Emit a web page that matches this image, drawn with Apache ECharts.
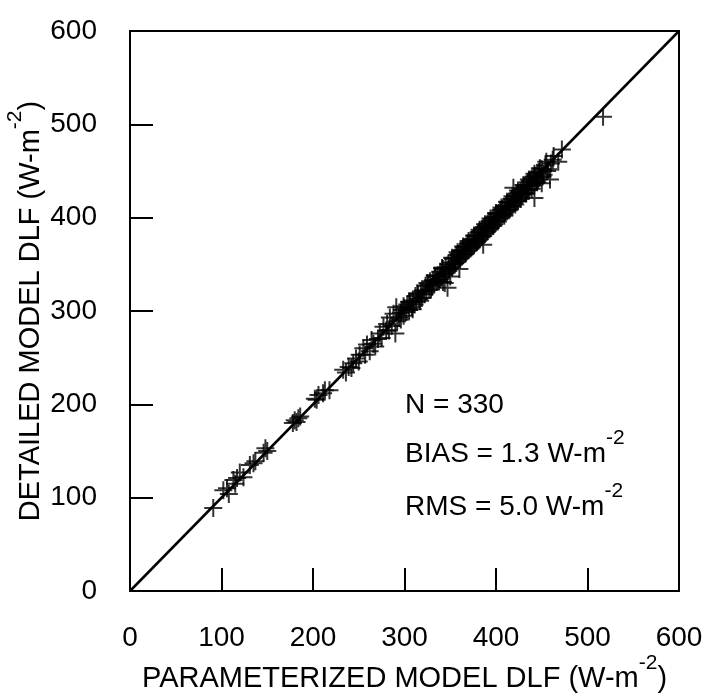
<!DOCTYPE html>
<html><head><meta charset="utf-8">
<script src="https://cdn.jsdelivr.net/npm/echarts@6/dist/echarts.min.js"></script>
<style>html,body{margin:0;padding:0;background:#fff}#c{width:704px;height:694px}</style>
</head><body><div id="c"></div>
<script>
// Parameterized model DLF (x) and detailed model DLF (y), W m-2
const paramDLF = [
  91,102,106,108,113,115,117,120,124,131,
  135,137,146,148,150,178,180,182,186,184,
  202,204,206,211,213,218,233,236,239,242,
  244,247,250,251,255,257,259,262,264,266,
  268,271,273,275,277,280,281,283,284,286,
  288,290,291,292,294,296,297,299,300,302,
  303,305,306,308,309,311,312,313,315,316,
  318,319,320,322,323,324,326,327,328,330,
  331,332,334,335,336,338,339,340,342,342,
  343,344,345,346,347,348,349,350,351,352,
  353,354,355,356,357,358,359,360,360,361,
  362,363,364,365,366,367,368,369,370,371,
  372,373,374,375,376,377,378,379,380,381,
  382,383,384,385,386,386,387,388,389,390,
  391,392,393,394,395,396,397,398,399,400,
  401,402,403,404,405,406,407,408,409,410,
  411,412,413,414,415,416,417,418,419,419,
  420,421,422,423,424,425,426,427,428,429,
  430,431,432,433,434,435,436,437,438,439,
  440,441,442,442,443,444,445,446,447,448,
  450,450,452,454,456,459,460,462,468,472,
  333,337,341,344,348,352,355,358,361,364,
  367,370,373,376,379,382,385,388,391,394,
  397,400,403,406,409,412,415,418,421,424,
  427,430,433,436,439,442,445,448,451,455,
  314,317,325,329,296,299,305,309,457,463,
  517
];
const detailedDLF = [
  89,108,110,104,119,115,121,127,122,135,
  137,139,148,153,150,180,183,181,187,185,
  206,205,210,212,215,215,237,234,240,239,
  244,249,246,253,260,253,264,257,269,265,
  262,270,276,271,283,279,286,279,293,284,
  297,276,304,289,293,298,301,295,303,299,
  307,301,309,304,311,307,316,310,318,313,
  321,314,322,318,327,321,328,323,332,326,
  333,328,337,331,338,334,342,336,331,345,
  339,330,347,341,325,350,345,337,352,347,
  356,350,357,352,360,354,361,345,356,364,
  358,365,360,368,361,369,364,372,365,373,
  367,376,369,377,371,380,373,381,375,384,
  377,385,379,388,371,381,390,383,391,385,
  394,388,396,389,397,392,400,393,401,396,
  404,396,405,400,408,402,409,404,412,406,
  413,408,416,408,417,412,420,412,420,432,
  416,423,418,426,418,427,422,428,424,431,
  426,434,426,435,430,438,430,439,434,442,
  435,444,421,437,445,439,448,441,449,443,
  437,452,446,456,450,441,458,462,460,473,
  338,333,346,340,343,357,351,363,357,369,
  362,375,368,381,374,387,380,393,386,399,
  391,405,398,411,402,417,409,423,414,429,
  420,435,426,441,431,447,438,453,444,460,
  319,311,330,323,291,305,310,302,452,466,
  508
];
// 1:1 reference line
const oneToOneX = [0, 600];
const oneToOneY = [0, 600];
// axis range
const axisMin = 0, axisMax = 600, axisStep = 100;
// annotation texts
const statN = 'N = 330';
const statBias = 'BIAS = 1.3 W-m';
const statRms = 'RMS = 5.0 W-m';
const unitExp = '-2';
const xTitle = 'PARAMETERIZED MODEL DLF (W-m';
const yTitle = 'DETAILED MODEL DLF (W-m';

const FONT = '"Liberation Sans", Arial, Helvetica, sans-serif';
const annRich = {
  m: { fontSize: 28, fontFamily: FONT, color: '#000', lineHeight: 40, verticalAlign: 'bottom' },
  s: { fontSize: 21, fontFamily: FONT, color: '#000', verticalAlign: 'top' }
};
const titleRich = {
  m: { fontSize: 29, fontFamily: FONT, color: '#000', lineHeight: 40, verticalAlign: 'bottom' },
  s: { fontSize: 21, fontFamily: FONT, color: '#000', verticalAlign: 'top' }
};

const scatterData = paramDLF.map((x, i) => [x, detailedDLF[i]]);
const lineData = oneToOneX.map((x, i) => [x, oneToOneY[i]]);

const chart = echarts.init(document.getElementById('c'), null, { renderer: 'canvas' });
const axisCommon = {
  type: 'value', min: axisMin, max: axisMax, interval: axisStep,
  axisLine: { show: true, onZero: false, lineStyle: { color: '#000', width: 2 } },
  axisTick: { show: true, inside: true, length: 23, lineStyle: { color: '#000', width: 2 } },
  splitLine: { show: false },
  nameLocation: 'middle',
  nameMoveOverlap: false,
  nameTextStyle: { rich: titleRich }
};
chart.setOption({
  animation: false,
  backgroundColor: '#fff',
  grid: { left: 130, right: 25, top: 31, bottom: 103, show: true, borderColor: '#000', borderWidth: 2,
          backgroundColor: 'transparent', containLabel: false, outerBoundsMode: 'none' },
  xAxis: Object.assign({}, axisCommon, {
    axisLabel: { color: '#000', fontSize: 28, fontFamily: FONT, margin: 33 },
    name: '{m|' + xTitle + '}{s|' + unitExp + '}{m|)}', nameGap: 62
  }),
  yAxis: Object.assign({}, axisCommon, {
    axisLabel: { color: '#000', fontSize: 28, fontFamily: FONT, margin: 33 },
    name: '{m|' + yTitle + '}{s|' + unitExp + '}{m|)}', nameGap: 85
  }),
  series: [
    {
      type: 'line', data: lineData, showSymbol: false, symbol: 'none',
      lineStyle: { color: '#000', width: 2.5 }, z: 3
    },
    {
      type: 'scatter', data: scatterData,
      symbol: 'path://M8,0L8,16M0,8L16,8', symbolSize: 18,
      itemStyle: { color: 'none', borderColor: '#000', borderWidth: 2 }, z: 2
    }
  ],
  graphic: [
    { type: 'text', left: 405, top: 391, style: { text: '{m|' + statN + '}', rich: annRich } },
    { type: 'text', left: 405, top: 428, style: { text: '{m|' + statBias + '}{s|' + unitExp + '}', rich: annRich } },
    { type: 'text', left: 405, top: 481, style: { text: '{m|' + statRms + '}{s|' + unitExp + '}', rich: annRich } }
  ]
});
</script>
</body></html>
